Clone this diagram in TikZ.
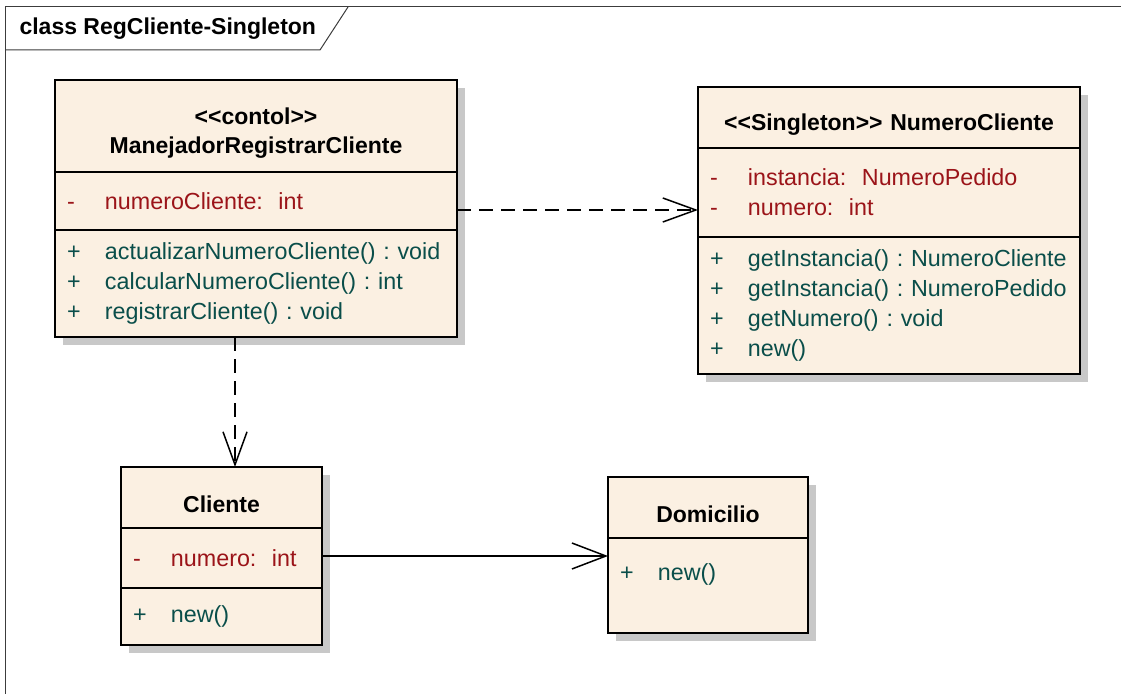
\documentclass[tikz,border=0pt]{standalone}
\usepackage{fontspec}
\setmainfont{Liberation Sans}
\usepackage{tikz}
\usetikzlibrary{positioning}
\usetikzlibrary{arrows.meta}
\usetikzlibrary{shadows}
\definecolor{clsfill}{RGB}{251,240,226}
\definecolor{shadowgray}{RGB}{200,200,200}
\definecolor{attrred}{RGB}{155,20,25}
\definecolor{opteal}{RGB}{10,78,74}
\definecolor{framegray}{RGB}{60,60,60}
\newcommand{\vis}[2]{\mbox{\makebox[38pt][l]{#1}#2}}
\newcommand{\stereo}[1]{<\kern0pt<#1>\kern0pt>}
\frenchspacing

\begin{document}
\begin{tikzpicture}[x=1pt,y=-1pt,
  every node/.style={font=\fontsize{23.3}{30}\selectfont},
  box/.style={draw,line width=1.5pt,fill=clsfill,inner xsep=12pt,inner ysep=0pt,outer sep=0pt,
    drop shadow={shadow xshift=8pt,shadow yshift=-8pt,fill=shadowgray,opacity=1,draw=none}},
  hdr/.style={box,anchor=north west},
  ttl/.style={font=\bfseries\fontsize{23}{29}\selectfont,align=center,yshift=-7pt},
  attrs/.style={box,align=left,text=attrred},
  ops/.style={box,align=left,text=opteal},
  dep/.style={line width=1.5pt,dash pattern=on 14pt off 8pt,-{Straight Barb[length=33pt,width=24pt]}},
  assoc/.style={line width=1.5pt,-{Straight Barb[length=34pt,width=26pt]}}]
\useasboundingbox (0,0) rectangle (1121,693);
% frame
\draw[framegray,line width=1pt] (1130,7) -| (5.5,700);
\draw[framegray,line width=1pt] (5.5,50) -- (320,50) -- (348,7);
\node[anchor=west,font=\bfseries\fontsize{23}{29}\selectfont] (frame) at (16,29) {class RegCliente-Singleton};

% control class
\begin{scope}[nodes={text width=378pt}]
  \node[hdr,minimum height=92] (mrc) at (55,80) {};
  \node[ttl] (mrc-t) at (mrc.center) {\stereo{contol}\\ManejadorRegistrarCliente};
  \node[attrs,below=0pt of mrc,minimum height=58] (mrc-a) {\vis{-}{numeroCliente:~~int}};
  \node[ops,below=0pt of mrc-a,minimum height=107] (mrc-o) {\vis{+}{actualizarNumeroCliente() : void}\\
    \vis{+}{calcularNumeroCliente() : int}\\\vis{+}{registrarCliente() : void}};
\end{scope}

% singleton
\begin{scope}[nodes={text width=358pt}]
  \node[hdr,minimum height=61] (nc) at (698,87) {};
  \node[ttl] (nc-t) at (nc.center) {\stereo{Singleton} NumeroCliente};
  \node[attrs,below=0pt of nc,minimum height=89] (nc-a) {\vis{-}{instancia:~~NumeroPedido}\\\vis{-}{numero:~~int}};
  \node[ops,below=0pt of nc-a,minimum height=137] (nc-o) {\vis{+}{getInstancia() : NumeroCliente}\\
    \vis{+}{getInstancia() : NumeroPedido}\\\vis{+}{getNumero() : void}\\\vis{+}{new()}};
\end{scope}

% Cliente
\begin{scope}[nodes={text width=177pt}]
  \node[hdr,minimum height=61] (cli) at (121,467) {};
  \node[ttl] (cli-t) at (cli.center) {Cliente};
  \node[attrs,below=0pt of cli,minimum height=60] (cli-a) {\vis{-}{numero:~~int}};
  \node[ops,below=0pt of cli-a,minimum height=57] (cli-o) {\vis{+}{new()}};
\end{scope}

% Domicilio
\begin{scope}[nodes={text width=176pt}]
  \node[hdr,minimum height=61] (dom) at (608,477) {};
  \node[ttl] (dom-t) at (dom.center) {Domicilio};
  \node[ops,below=0pt of dom,minimum height=95,text depth=26pt] (dom-o) {\vis{+}{new()}};
\end{scope}

\draw[dep] ([yshift=-9pt]mrc-a.east) -- ([yshift=-9pt]mrc-a.east -| nc-a.west);
\draw[dep] ([xshift=-21pt]mrc-o.south) -- ([xshift=-21pt]mrc-o.south |- cli.north);
\draw[assoc] ([yshift=2pt]cli-a.east) -- ([yshift=2pt]cli-a.east -| dom-o.west);
\end{tikzpicture}
\end{document}
